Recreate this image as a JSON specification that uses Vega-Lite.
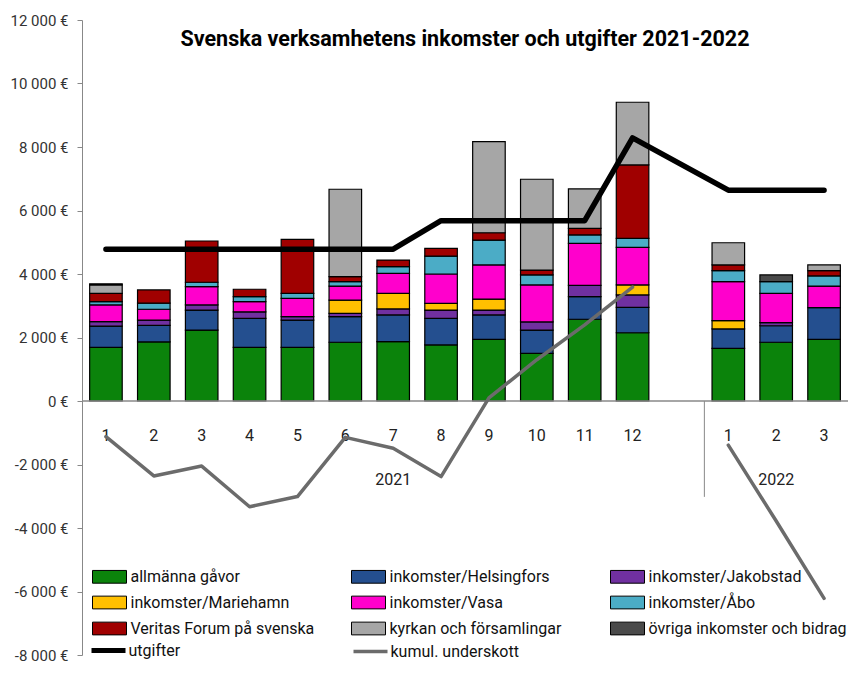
{
  "$schema": "https://vega.github.io/schema/vega-lite/v6.json",
  "width": 766,
  "height": 635,
  "autosize": {"type": "none"},
  "padding": {"left": 82, "top": 20, "right": 0, "bottom": 27},
  "background": "white",
  "title": {
    "text": "Svenska verksamhetens inkomster och utgifter 2021-2022",
    "fontSize": 21.5,
    "fontWeight": "bold",
    "offset": -37,
    "anchor": "middle",
    "color": "#000"
  },
  "config": {
    "view": {"stroke": null},
    "font": "Roboto, Liberation Sans, sans-serif"
  },
  "datasets": {
    "inkomster": [
      {"m": "2021-1", "k": "allmänna gåvor", "v": 1690},
      {"m": "2021-1", "k": "inkomster/Helsingfors", "v": 670},
      {"m": "2021-1", "k": "inkomster/Jakobstad", "v": 140},
      {"m": "2021-1", "k": "inkomster/Vasa", "v": 525},
      {"m": "2021-1", "k": "inkomster/Åbo", "v": 105},
      {"m": "2021-1", "k": "Veritas Forum på svenska", "v": 260},
      {"m": "2021-1", "k": "kyrkan och församlingar", "v": 270},
      {"m": "2021-1", "k": "övriga inkomster och bidrag", "v": 30},
      {"m": "2021-2", "k": "allmänna gåvor", "v": 1860},
      {"m": "2021-2", "k": "inkomster/Helsingfors", "v": 520},
      {"m": "2021-2", "k": "inkomster/Jakobstad", "v": 170},
      {"m": "2021-2", "k": "inkomster/Vasa", "v": 340},
      {"m": "2021-2", "k": "inkomster/Åbo", "v": 190},
      {"m": "2021-2", "k": "Veritas Forum på svenska", "v": 420},
      {"m": "2021-3", "k": "allmänna gåvor", "v": 2235},
      {"m": "2021-3", "k": "inkomster/Helsingfors", "v": 630},
      {"m": "2021-3", "k": "inkomster/Jakobstad", "v": 160},
      {"m": "2021-3", "k": "inkomster/Vasa", "v": 575},
      {"m": "2021-3", "k": "inkomster/Åbo", "v": 140},
      {"m": "2021-3", "k": "Veritas Forum på svenska", "v": 1300},
      {"m": "2021-4", "k": "allmänna gåvor", "v": 1690},
      {"m": "2021-4", "k": "inkomster/Helsingfors", "v": 910},
      {"m": "2021-4", "k": "inkomster/Jakobstad", "v": 210},
      {"m": "2021-4", "k": "inkomster/Vasa", "v": 320},
      {"m": "2021-4", "k": "inkomster/Åbo", "v": 155},
      {"m": "2021-4", "k": "Veritas Forum på svenska", "v": 235},
      {"m": "2021-5", "k": "allmänna gåvor", "v": 1690},
      {"m": "2021-5", "k": "inkomster/Helsingfors", "v": 860},
      {"m": "2021-5", "k": "inkomster/Jakobstad", "v": 105},
      {"m": "2021-5", "k": "inkomster/Vasa", "v": 580},
      {"m": "2021-5", "k": "inkomster/Åbo", "v": 155},
      {"m": "2021-5", "k": "Veritas Forum på svenska", "v": 1700},
      {"m": "2021-6", "k": "allmänna gåvor", "v": 1850},
      {"m": "2021-6", "k": "inkomster/Helsingfors", "v": 805},
      {"m": "2021-6", "k": "inkomster/Jakobstad", "v": 105},
      {"m": "2021-6", "k": "inkomster/Mariehamn", "v": 420},
      {"m": "2021-6", "k": "inkomster/Vasa", "v": 440},
      {"m": "2021-6", "k": "inkomster/Åbo", "v": 140},
      {"m": "2021-6", "k": "Veritas Forum på svenska", "v": 155},
      {"m": "2021-6", "k": "kyrkan och församlingar", "v": 2755},
      {"m": "2021-7", "k": "allmänna gåvor", "v": 1870},
      {"m": "2021-7", "k": "inkomster/Helsingfors", "v": 840},
      {"m": "2021-7", "k": "inkomster/Jakobstad", "v": 190},
      {"m": "2021-7", "k": "inkomster/Mariehamn", "v": 490},
      {"m": "2021-7", "k": "inkomster/Vasa", "v": 630},
      {"m": "2021-7", "k": "inkomster/Åbo", "v": 210},
      {"m": "2021-7", "k": "Veritas Forum på svenska", "v": 210},
      {"m": "2021-8", "k": "allmänna gåvor", "v": 1765},
      {"m": "2021-8", "k": "inkomster/Helsingfors", "v": 835},
      {"m": "2021-8", "k": "inkomster/Jakobstad", "v": 265},
      {"m": "2021-8", "k": "inkomster/Mariehamn", "v": 210},
      {"m": "2021-8", "k": "inkomster/Vasa", "v": 925},
      {"m": "2021-8", "k": "inkomster/Åbo", "v": 565},
      {"m": "2021-8", "k": "Veritas Forum på svenska", "v": 245},
      {"m": "2021-9", "k": "allmänna gåvor", "v": 1940},
      {"m": "2021-9", "k": "inkomster/Helsingfors", "v": 770},
      {"m": "2021-9", "k": "inkomster/Jakobstad", "v": 155},
      {"m": "2021-9", "k": "inkomster/Mariehamn", "v": 345},
      {"m": "2021-9", "k": "inkomster/Vasa", "v": 1075},
      {"m": "2021-9", "k": "inkomster/Åbo", "v": 785},
      {"m": "2021-9", "k": "Veritas Forum på svenska", "v": 230},
      {"m": "2021-9", "k": "kyrkan och församlingar", "v": 2870},
      {"m": "2021-10", "k": "allmänna gåvor", "v": 1500},
      {"m": "2021-10", "k": "inkomster/Helsingfors", "v": 735},
      {"m": "2021-10", "k": "inkomster/Jakobstad", "v": 255},
      {"m": "2021-10", "k": "inkomster/Vasa", "v": 1165},
      {"m": "2021-10", "k": "inkomster/Åbo", "v": 315},
      {"m": "2021-10", "k": "Veritas Forum på svenska", "v": 155},
      {"m": "2021-10", "k": "kyrkan och församlingar", "v": 2860},
      {"m": "2021-11", "k": "allmänna gåvor", "v": 2575},
      {"m": "2021-11", "k": "inkomster/Helsingfors", "v": 710},
      {"m": "2021-11", "k": "inkomster/Jakobstad", "v": 355},
      {"m": "2021-11", "k": "inkomster/Vasa", "v": 1325},
      {"m": "2021-11", "k": "inkomster/Åbo", "v": 265},
      {"m": "2021-11", "k": "Veritas Forum på svenska", "v": 210},
      {"m": "2021-11", "k": "kyrkan och församlingar", "v": 1240},
      {"m": "2021-12", "k": "allmänna gåvor", "v": 2150},
      {"m": "2021-12", "k": "inkomster/Helsingfors", "v": 800},
      {"m": "2021-12", "k": "inkomster/Jakobstad", "v": 390},
      {"m": "2021-12", "k": "inkomster/Mariehamn", "v": 315},
      {"m": "2021-12", "k": "inkomster/Vasa", "v": 1185},
      {"m": "2021-12", "k": "inkomster/Åbo", "v": 285},
      {"m": "2021-12", "k": "Veritas Forum på svenska", "v": 2310},
      {"m": "2021-12", "k": "kyrkan och församlingar", "v": 1975},
      {"m": "2022-1", "k": "allmänna gåvor", "v": 1660},
      {"m": "2022-1", "k": "inkomster/Helsingfors", "v": 610},
      {"m": "2022-1", "k": "inkomster/Mariehamn", "v": 260},
      {"m": "2022-1", "k": "inkomster/Vasa", "v": 1230},
      {"m": "2022-1", "k": "inkomster/Åbo", "v": 345},
      {"m": "2022-1", "k": "Veritas Forum på svenska", "v": 180},
      {"m": "2022-1", "k": "kyrkan och församlingar", "v": 700},
      {"m": "2022-2", "k": "allmänna gåvor", "v": 1850},
      {"m": "2022-2", "k": "inkomster/Helsingfors", "v": 520},
      {"m": "2022-2", "k": "inkomster/Jakobstad", "v": 100},
      {"m": "2022-2", "k": "inkomster/Vasa", "v": 920},
      {"m": "2022-2", "k": "inkomster/Åbo", "v": 370},
      {"m": "2022-2", "k": "övriga inkomster och bidrag", "v": 210},
      {"m": "2022-3", "k": "allmänna gåvor", "v": 1940},
      {"m": "2022-3", "k": "inkomster/Helsingfors", "v": 1000},
      {"m": "2022-3", "k": "inkomster/Vasa", "v": 680},
      {"m": "2022-3", "k": "inkomster/Åbo", "v": 320},
      {"m": "2022-3", "k": "Veritas Forum på svenska", "v": 165},
      {"m": "2022-3", "k": "kyrkan och församlingar", "v": 180}
    ],
    "utgifter": [
      {"m": "2021-1", "s": "utgifter", "v": 4780},
      {"m": "2021-2", "s": "utgifter", "v": 4780},
      {"m": "2021-3", "s": "utgifter", "v": 4780},
      {"m": "2021-4", "s": "utgifter", "v": 4780},
      {"m": "2021-5", "s": "utgifter", "v": 4780},
      {"m": "2021-6", "s": "utgifter", "v": 4780},
      {"m": "2021-7", "s": "utgifter", "v": 4780},
      {"m": "2021-8", "s": "utgifter", "v": 5680},
      {"m": "2021-9", "s": "utgifter", "v": 5680},
      {"m": "2021-10", "s": "utgifter", "v": 5680},
      {"m": "2021-11", "s": "utgifter", "v": 5680},
      {"m": "2021-12", "s": "utgifter", "v": 8290},
      {"m": "2022-1", "s": "utgifter", "v": 6640},
      {"m": "2022-2", "s": "utgifter", "v": 6640},
      {"m": "2022-3", "s": "utgifter", "v": 6640}
    ],
    "underskott": [
      {"m": "2021-1", "s": "kumul. underskott", "år": "2021", "v": -1125},
      {"m": "2021-2", "s": "kumul. underskott", "år": "2021", "v": -2360},
      {"m": "2021-3", "s": "kumul. underskott", "år": "2021", "v": -2050},
      {"m": "2021-4", "s": "kumul. underskott", "år": "2021", "v": -3330},
      {"m": "2021-5", "s": "kumul. underskott", "år": "2021", "v": -3010},
      {"m": "2021-6", "s": "kumul. underskott", "år": "2021", "v": -1145},
      {"m": "2021-7", "s": "kumul. underskott", "år": "2021", "v": -1490},
      {"m": "2021-8", "s": "kumul. underskott", "år": "2021", "v": -2380},
      {"m": "2021-9", "s": "kumul. underskott", "år": "2021", "v": 100},
      {"m": "2021-10", "s": "kumul. underskott", "år": "2021", "v": 1300},
      {"m": "2021-11", "s": "kumul. underskott", "år": "2021", "v": 2400},
      {"m": "2021-12", "s": "kumul. underskott", "år": "2021", "v": 3590},
      {"m": "2022-1", "s": "kumul. underskott", "år": "2022", "v": -1390},
      {"m": "2022-2", "s": "kumul. underskott", "år": "2022", "v": -3780},
      {"m": "2022-3", "s": "kumul. underskott", "år": "2022", "v": -6215}
    ],
    "grupper": [
      {"m": "2021-7", "t": "2021"},
      {"m": "2022-2", "t": "2022"}
    ]
  },
  "layer": [
    {
      "data": {"name": "inkomster"},
      "transform": [
        {"calculate": "indexof(['allmänna gåvor', 'inkomster/Helsingfors', 'inkomster/Jakobstad', 'inkomster/Mariehamn', 'inkomster/Vasa', 'inkomster/Åbo', 'Veritas Forum på svenska', 'kyrkan och församlingar', 'övriga inkomster och bidrag'], datum.k)", "as": "ordning"}
      ],
      "mark": {"type": "bar", "stroke": "#000", "strokeWidth": 1.2},
      "encoding": {
        "x": {
          "field": "m",
          "type": "nominal",
          "scale": {
            "domain": ["2021-1", "2021-2", "2021-3", "2021-4", "2021-5", "2021-6", "2021-7", "2021-8", "2021-9", "2021-10", "2021-11", "2021-12", "2021-13", "2022-1", "2022-2", "2022-3"],
            "paddingInner": 0.32,
            "paddingOuter": 0.16
          },
          "axis": {
            "title": null,
            "orient": "bottom",
            "offset": -254,
            "domain": false,
            "ticks": false,
            "grid": false,
            "labelAngle": 0,
            "labelPadding": 26,
            "labelFontSize": 16,
            "labelColor": "#222",
            "labelExpr": "datum.value == '2021-13' ? '' : split(datum.value, '-')[1]"
          }
        },
        "y": {
          "field": "v",
          "type": "quantitative",
          "stack": "zero",
          "scale": {"domain": [-8000, 12000], "nice": false, "zero": false},
          "axis": {
            "title": null,
            "values": [-8000, -6000, -4000, -2000, 0, 2000, 4000, 6000, 8000, 10000, 12000],
            "grid": false,
            "domainColor": "#888",
            "tickColor": "#888",
            "tickSize": 5,
            "labelPadding": 9,
            "labelFontSize": 15,
            "labelColor": "#333",
            "labelExpr": "replace(replace(format(datum.value, ','), ',', ' '), '−', '-') + ' €'"
          }
        },
        "order": {"field": "ordning", "type": "quantitative", "sort": "ascending"},
        "fill": {
          "field": "k",
          "type": "nominal",
          "sort": ["allmänna gåvor", "inkomster/Helsingfors", "inkomster/Jakobstad", "inkomster/Mariehamn", "inkomster/Vasa", "inkomster/Åbo", "Veritas Forum på svenska", "kyrkan och församlingar", "övriga inkomster och bidrag"],
          "scale": {
            "domain": ["allmänna gåvor", "inkomster/Helsingfors", "inkomster/Jakobstad", "inkomster/Mariehamn", "inkomster/Vasa", "inkomster/Åbo", "Veritas Forum på svenska", "kyrkan och församlingar", "övriga inkomster och bidrag"],
            "range": ["#0b830b", "#244f8f", "#7030a0", "#ffc000", "#ff00cc", "#4bacc6", "#a00000", "#a6a6a6", "#4a4a4a"]
          },
          "legend": {
            "title": null,
            "orient": "none",
            "direction": "horizontal",
            "legendX": 18.5,
            "legendY": 547.5,
            "columns": 3,
            "gridAlign": "all",
            "columnPadding": 20,
            "rowPadding": 8,
            "symbolType": "M-2,-0.75H2V0.75H-2Z",
            "symbolSize": 289,
            "symbolStrokeColor": "#000",
            "symbolStrokeWidth": 1,
            "labelOffset": 12,
            "labelFontSize": 16,
            "labelLimit": 400,
            "labelColor": "#111"
          }
        }
      }
    },
    {
      "data": {"values": [{}]},
      "mark": {"type": "rule", "color": "#888", "strokeWidth": 1.5},
      "encoding": {"y": {"datum": 0}}
    },
    {
      "data": {"values": [{}]},
      "mark": {"type": "rule", "color": "#888", "strokeWidth": 1},
      "encoding": {
        "x": {"datum": "2021-13", "bandPosition": 1.235},
        "y": {"datum": 0},
        "y2": {"datum": -3020}
      }
    },
    {
      "data": {"name": "grupper"},
      "mark": {"type": "text", "fontSize": 16, "color": "#222", "baseline": "middle"},
      "encoding": {
        "x": {"field": "m", "type": "nominal"},
        "y": {"datum": -2490},
        "text": {"field": "t"}
      }
    },
    {
      "data": {"name": "utgifter"},
      "mark": {"type": "line", "strokeWidth": 5.5, "strokeCap": "round", "strokeJoin": "round"},
      "encoding": {
        "x": {"field": "m", "type": "nominal"},
        "y": {"field": "v", "type": "quantitative"},
        "order": {"value": null},
        "stroke": {
          "field": "s",
          "type": "nominal",
          "scale": {"domain": ["utgifter", "kumul. underskott"], "range": ["#000000", "#6b6b6b"]},
          "legend": {
            "title": null,
            "orient": "none",
            "direction": "horizontal",
            "legendX": 18.5,
            "legendY": 622.5,
            "columns": 3,
            "gridAlign": "all",
            "columnPadding": 89,
            "symbolType": "M-2,0H2",
            "symbolSize": 289,
            "labelOffset": 12,
            "labelFontSize": 16,
            "labelLimit": 400,
            "labelColor": "#111",
            "encode": {"symbols": {"update": {"strokeWidth": {"signal": "datum.value === 'utgifter' ? 5 : 3.5"}}}}
          }
        }
      }
    },
    {
      "data": {"name": "underskott"},
      "mark": {"type": "line", "strokeWidth": 3.5, "strokeCap": "round", "strokeJoin": "round"},
      "encoding": {
        "x": {"field": "m", "type": "nominal"},
        "y": {"field": "v", "type": "quantitative"},
        "order": {"value": null},
        "detail": {"field": "år"},
        "stroke": {"field": "s", "type": "nominal"}
      }
    }
  ]
}
